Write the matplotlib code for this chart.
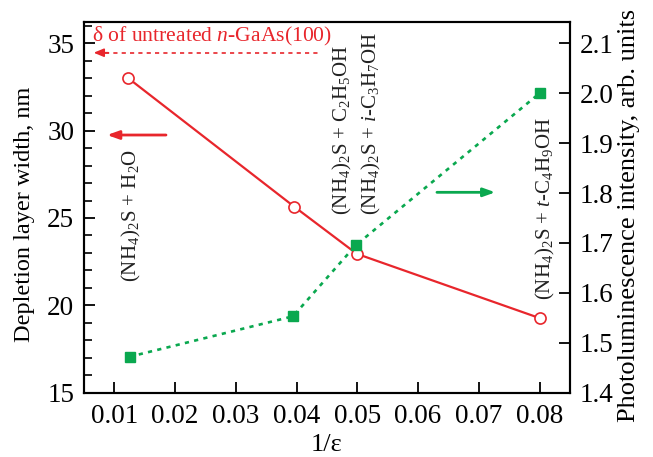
import matplotlib
matplotlib.use("Agg")
import matplotlib.pyplot as plt
from matplotlib.ticker import MultipleLocator

# Inverse dielectric constant of each solvent
inv_eps = [0.0123, 0.0396, 0.0499, 0.0800]
inv_eps_pl = [0.0125, 0.0394, 0.0497, 0.0800]
# Depletion layer width, nm
depletion = [33.0, 25.65, 22.95, 19.27]
# Photoluminescence intensity, arb. units
pl_intensity = [1.472, 1.553, 1.695, 2.000]

# Depletion layer width of untreated n-GaAs(100)
delta_untreated = 34.46

solvent_labels = [
    r"(NH$_4$)$_2$S + H$_2$O",
    r"(NH$_4$)$_2$S + C$_2$H$_5$OH",
    r"(NH$_4$)$_2$S + $i$-C$_3$H$_7$OH",
    r"(NH$_4$)$_2$S + $t$-C$_4$H$_9$OH",
]

RED = "#e8262c"
GREEN = "#0aa84f"

plt.rcParams.update({
    "font.family": ["Liberation Serif", "DejaVu Serif"],
    "mathtext.fontset": "custom",
    "mathtext.rm": "Liberation Serif",
    "mathtext.it": "Liberation Serif:italic",
    "mathtext.bf": "Liberation Serif:bold",
    "axes.linewidth": 1.5,
})

fig = plt.figure(figsize=(6.53, 4.57), dpi=100)
ax = fig.add_axes([0.1286, 0.1407, 0.7443, 0.8112])
ax2 = ax.twinx()

ax.set_xlim(0.005, 0.085)
ax.set_ylim(15, 36.22)
ax2.set_ylim(1.4, 1.4 + (36.22 - 15) * 0.035)

ax.plot(inv_eps, depletion, color=RED, lw=1.6, marker="o", ms=8,
        mfc="white", mec=RED, mew=1.2, zorder=3)
ax2.plot(inv_eps_pl, pl_intensity, color=GREEN, lw=1.9,
         linestyle=(0, (1.6, 2.0)), marker="s", ms=7.5, mfc=GREEN,
         mec=GREEN, zorder=2)

# Ticks
ax.xaxis.set_major_locator(MultipleLocator(0.01))
ax.yaxis.set_major_locator(MultipleLocator(5))
ax.yaxis.set_minor_locator(MultipleLocator(1))
ax.tick_params(axis="both", which="major", direction="in", length=8,
               width=1.3, labelsize=19.5, pad=7, top=False, right=False)
ax.tick_params(axis="x", pad=8)
ax.tick_params(axis="y", which="minor", direction="in", length=6, width=1.2)
ax2.tick_params(axis="y", which="major", direction="in", length=8,
                width=1.3, labelsize=19.5, pad=7)
ax.set_xticks([0.01, 0.02, 0.03, 0.04, 0.05, 0.06, 0.07, 0.08])
ax.set_xticklabels([f"{v:.2f}" for v in ax.get_xticks()])
ax2.set_yticks([1.4, 1.5, 1.6, 1.7, 1.8, 1.9, 2.0, 2.1])
ax2.set_yticklabels([f"{v:.1f}" for v in ax2.get_yticks()])

ax.set_xlabel("1/ε", fontsize=19)
ax.xaxis.set_label_coords(0.5, -0.112)
ax.set_ylabel("Depletion layer width, nm", fontsize=17.5)
ax.yaxis.set_label_coords(-0.101, 0.482)
ax2.set_ylabel("Photoluminescence intensity, arb. units", fontsize=19)
ax2.yaxis.set_label_coords(1.099, 0.477)

# Reference level of untreated sample
ax.text(0.0064, 35.4, r"δ of untreated $n$-GaAs(100)", color=RED,
        fontsize=15.6, ha="left", va="center")
ax.plot([0.0085, 0.0439], [delta_untreated, delta_untreated], color=RED,
        lw=1.2, linestyle=(0, (2.5, 2.5)))
ax.annotate("", xy=(0.0066, delta_untreated), xytext=(0.0090, delta_untreated),
            arrowprops=dict(arrowstyle="-|>,head_length=0.6,head_width=0.25",
                            color=RED, lw=1.2, shrinkA=0, shrinkB=0))

# Axis assignment arrows
ax.annotate("", xy=(0.0088, 29.75), xytext=(0.0185, 29.75),
            arrowprops=dict(arrowstyle="-|>,head_length=0.7,head_width=0.25",
                            color=RED, lw=2, shrinkA=0, shrinkB=0))
ax.annotate("", xy=(0.0727, 26.47), xytext=(0.0631, 26.47),
            arrowprops=dict(arrowstyle="-|>,head_length=0.7,head_width=0.25",
                            color=GREEN, lw=2, shrinkA=0, shrinkB=0))

# Solvent labels
label_pos = [(0.0129, 21.34), (0.0475, 25.17), (0.0523, 25.17), (0.0809, 20.31)]
for (x, y), s in zip(label_pos, solvent_labels):
    ax.text(x, y, s, rotation=90, fontsize=15, ha="center", va="bottom",
            color="#222222")

fig.savefig("out.png", dpi=100)
